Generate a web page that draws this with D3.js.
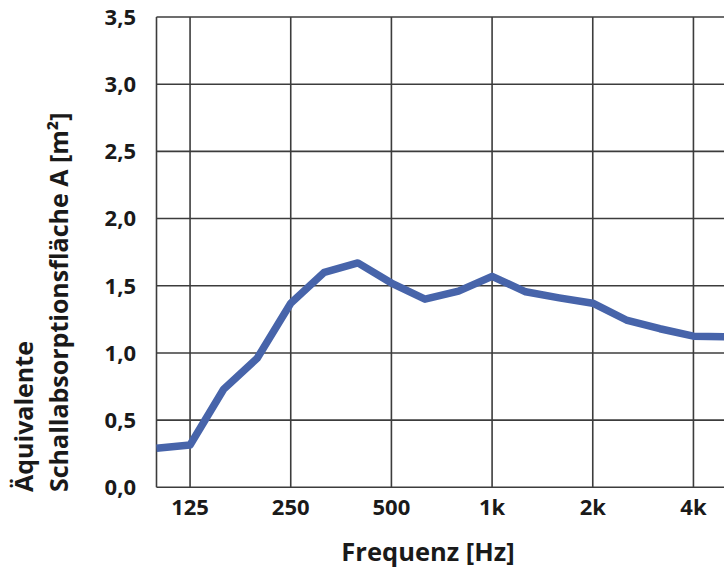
<!DOCTYPE html>
<html><head><meta charset="utf-8">
<script src="https://cdn.jsdelivr.net/npm/d3@7"></script>
<style>
html,body{margin:0;padding:0;background:#fff;}
svg{display:block;font-family:"Open Sans","Noto Sans",sans-serif;font-weight:700;}
</style></head>
<body><svg id="c" width="724" height="572"></svg>
<script>
const bands = ["100","125","160","200","250","315","400","500","630","800","1000","1250","1600","2000","2500","3150","4000","5000"];
const values = [0.29,0.315,0.73,0.96,1.37,1.60,1.67,1.52,1.40,1.46,1.57,1.455,1.41,1.37,1.245,1.18,1.125,1.12];
const xTickBands = ["125","250","500","1000","2000","4000"];
const xTickLabels = ["125","250","500","1k","2k","4k"];
const yTicks = [0,0.5,1.0,1.5,2.0,2.5,3.0,3.5];
const yTickLabels = ["0,0","0,5","1,0","1,5","2,0","2,5","3,0","3,5"];

const svg = d3.select("#c");
const x = d3.scalePoint().domain(bands).range([156.5, 727]);
const y = d3.scaleLinear().domain([0,3.5]).range([487.3, 17]);

const grid = svg.append("g").attr("stroke","#3c3c3c").attr("stroke-width",1.6);
grid.selectAll("line.h").data(yTicks).join("line").attr("class","h")
  .attr("x1",x("100")).attr("x2",727).attr("y1",d=>y(d)).attr("y2",d=>y(d));
grid.selectAll("line.v").data(["100"].concat(xTickBands)).join("line").attr("class","v")
  .attr("x1",d=>x(d)).attr("x2",d=>x(d)).attr("y1",y(0)).attr("y2",y(3.5));

const line = d3.line().x((d,i)=>x(bands[i])).y(d=>y(d));
svg.append("path").datum(values).attr("d",line).attr("fill","none")
  .attr("stroke","#4764aa").attr("stroke-width",7.5).attr("stroke-linejoin","round");

svg.append("g").selectAll("text").data(yTicks).join("text")
  .attr("x",136).attr("y",d=>y(d)).attr("dy","0.36em").attr("text-anchor","end")
  .attr("font-size",22).attr("fill","#1a1a1a").text((d,i)=>yTickLabels[i]);

svg.append("g").selectAll("text").data(xTickBands).join("text")
  .attr("x",d=>x(d)).attr("y",515).attr("text-anchor","middle")
  .attr("font-size",22).attr("fill","#1a1a1a").text((d,i)=>xTickLabels[i]);

svg.append("text").attr("x",428).attr("y",561).attr("text-anchor","middle")
  .attr("font-size",25.5).attr("fill","#1a1a1a").text("Frequenz [Hz]");

const yt = svg.append("text").attr("transform","translate(33,492) rotate(-90)")
  .attr("font-size",25).attr("fill","#1a1a1a");
yt.append("tspan").attr("x",0).attr("y",0).text("Äquivalente");
yt.append("tspan").attr("x",0).attr("y",35).text("Schallabsorptionsfläche A [m²]");
</script></body></html>
